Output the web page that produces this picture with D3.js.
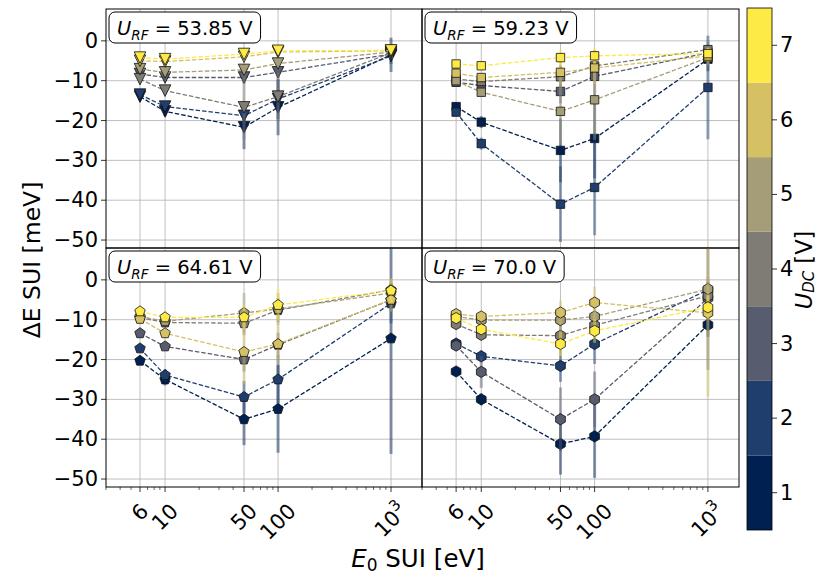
<!DOCTYPE html>
<html>
<head>
<meta charset="utf-8">
<script src="https://cdn.jsdelivr.net/npm/d3@7"></script>
<style>
  body { margin: 0; background: #fff; }
  text { font-family: "DejaVu Sans", sans-serif; }
</style>
</head>
<body>
<svg id="chart" width="820" height="578"></svg>
<script>
// E0 SUI values (x) and the U_DC levels (colour)
const xE0 = [6, 10, 50, 100, 1000];
const xTickLabels = ['6', '10', '50', '100', '10^3'];
const udcLevels = [1, 2, 3, 4, 5, 6, 7];
const yTicks = [0, -10, -20, -30, -40, -50];
const urfLabels = ['53.85', '59.23', '64.61', '70.0'];

// ΔE SUI [meV], one row per U_DC = 1..7
const dE_53 = [
  [-14.0, -17.7, -21.7, -16.7, -3.5],
  [-13.5, -16.5, -18.8, -14.6, -3.8],
  [-8.3, -9.2, -9.2, -7.9, -3.3],
  [-9.6, -12.5, -16.7, -14.0, -3.0],
  [-7.1, -7.9, -7.3, -5.7, -2.8],
  [-5.0, -5.2, -4.0, -2.8, -2.5],
  [-4.2, -4.6, -3.3, -2.5, -2.4]
];
const err_53 = [
  [1.0, 1.2, 5.5, 7.0, 4.3],
  [1.0, 1.0, 2.0, 5.0, 2.0],
  [0.8, 0.8, 1.5, 1.5, 1.5],
  [0.8, 1.0, 8.0, 6.0, 1.5],
  [0.8, 0.8, 1.5, 1.5, 1.5],
  [0.8, 0.8, 1.0, 1.0, 1.0],
  [0.8, 0.8, 1.0, 1.0, 1.0]
];
const dE_59 = [
  [-16.5, -20.4, -27.5, -24.5, -4.6],
  [-17.9, -25.8, -41.0, -36.8, -11.7],
  [-10.4, -11.2, -12.7, -8.9, -3.0],
  [-9.6, -10.2, -9.0, -6.3, -2.2],
  [-10.0, -12.9, -17.7, -14.8, -4.2],
  [-8.1, -9.2, -7.9, -6.8, -3.8],
  [-5.8, -6.25, -4.2, -3.75, -3.2]
];
const err_59 = [
  [1.0, 1.5, 8.0, 10.0, 3.0],
  [1.0, 1.5, 9.5, 12.0, 13.0],
  [1.0, 1.0, 3.0, 5.0, 2.0],
  [1.0, 1.0, 3.0, 4.0, 2.0],
  [1.0, 1.0, 8.0, 10.0, 2.0],
  [1.0, 1.0, 3.0, 4.0, 2.0],
  [1.0, 1.0, 2.0, 2.0, 1.5]
];
const dE_64 = [
  [-20.3, -25.0, -35.0, -32.4, -14.7],
  [-17.2, -23.9, -29.4, -25.0, -5.9],
  [-13.4, -16.7, -20.0, -16.3, -5.0],
  [-9.5, -10.7, -10.9, -7.6, -2.5],
  [-9.2, -10.4, -8.3, -7.3, -3.3],
  [-9.8, -13.4, -18.1, -16.1, -5.0],
  [-7.9, -9.4, -9.4, -6.3, -2.7]
];
const err_64 = [
  [1.0, 1.5, 6.5, 11.0, 29.0],
  [1.0, 1.5, 4.0, 6.0, 5.0],
  [1.0, 1.0, 3.0, 3.0, 3.0],
  [1.0, 1.0, 3.0, 3.0, 2.0],
  [1.0, 1.0, 5.0, 4.0, 2.0],
  [1.0, 1.0, 8.0, 5.0, 3.0],
  [1.0, 1.0, 3.0, 4.0, 3.0]
];
const dE_70 = [
  [-23.0, -30.0, -41.2, -39.3, -11.3],
  [-16.0, -19.2, -21.6, -16.1, -2.5],
  [-16.5, -23.1, -35.0, -30.0, -4.6],
  [-11.1, -13.8, -14.0, -11.4, -4.0],
  [-9.2, -10.1, -10.1, -9.2, -2.3],
  [-8.6, -9.2, -8.2, -5.7, -8.3],
  [-9.6, -12.4, -16.1, -12.8, -6.9]
];
const err_70 = [
  [1.0, 1.5, 7.7, 10.4, 3.0],
  [1.0, 1.5, 4.0, 5.0, 2.0],
  [1.0, 4.0, 8.0, 7.0, 18.0],
  [1.0, 1.0, 3.0, 3.0, 3.0],
  [1.0, 1.0, 3.0, 4.0, 3.0],
  [1.0, 1.0, 3.0, 4.0, 21.0],
  [1.0, 1.0, 3.0, 3.0, 3.0]
];

const svg = d3.select('#chart');
const color = (v) => d3.interpolateCividis((v - 1) / 6);

const colX = [[106, 422], [422, 739]];
const rowY = [[9, 248], [248, 487]];
const tickFont = 21;

const markers = {
  tri: (r) => `M0,${r}L${-r},${-r}L${r},${-r}Z`,
  square: (r) => `M${-r},${-r}H${r}V${r}H${-r}Z`,
  poly: (n) => (r) => {
    const pts = d3.range(n).map((k) => {
      const a = -Math.PI / 2 + (k * 2 * Math.PI) / n;
      return [r * Math.cos(a), r * Math.sin(a)];
    });
    return 'M' + pts.map((p) => p.join(',')).join('L') + 'Z';
  }
};

const panels = [
  { urf: urfLabels[0], vals: dE_53, errs: err_53, col: 0, row: 0, mark: markers.tri, r: 5.8 },
  { urf: urfLabels[1], vals: dE_59, errs: err_59, col: 1, row: 0, mark: markers.square, r: 4.2 },
  { urf: urfLabels[2], vals: dE_64, errs: err_64, col: 0, row: 1, mark: markers.poly(5), r: 5.5 },
  { urf: urfLabels[3], vals: dE_70, errs: err_70, col: 1, row: 1, mark: markers.poly(6), r: 5.6 }
];

panels.forEach((p, pi) => {
  const [x0, x1] = colX[p.col];
  const [y0, y1] = rowY[p.row];
  const x = d3.scaleLog().domain([3.0, 1880]).range([x0, x1]);
  const y = d3.scaleLinear().domain([-52, 8]).range([y1, y0]);

  const g = svg.append('g');
  const clipId = 'clip' + pi;
  g.append('clipPath').attr('id', clipId)
    .append('rect').attr('x', x0).attr('y', y0).attr('width', x1 - x0).attr('height', y1 - y0);

  // grid
  g.append('g').selectAll('line').data(xE0).join('line')
    .attr('x1', (d) => x(d)).attr('x2', (d) => x(d))
    .attr('y1', y0).attr('y2', y1)
    .attr('stroke', '#b0b0b0').attr('stroke-width', 0.8);
  g.append('g').selectAll('line').data(yTicks).join('line')
    .attr('x1', x0).attr('x2', x1)
    .attr('y1', (d) => y(d)).attr('y2', (d) => y(d))
    .attr('stroke', '#b0b0b0').attr('stroke-width', 0.8);

  const plot = g.append('g').attr('clip-path', `url(#${clipId})`);
  const line = d3.line().x((d) => x(d[0])).y((d) => y(d[1]));

  p.vals.forEach((row, si) => {
    const c = color(udcLevels[si]);
    const pts = row.map((v, i) => [xE0[i], v, p.errs[si][i]]);
    const s = plot.append('g');
    s.selectAll('line.err').data(pts).join('line')
      .attr('class', 'err')
      .attr('x1', (d) => x(d[0])).attr('x2', (d) => x(d[0]))
      .attr('y1', (d) => y(d[1] - d[2])).attr('y2', (d) => y(d[1] + d[2]))
      .attr('stroke', c).attr('stroke-opacity', 0.45).attr('stroke-width', 3);
    s.append('path').datum(pts)
      .attr('d', line)
      .attr('fill', 'none').attr('stroke', c)
      .attr('stroke-width', 1.3).attr('stroke-dasharray', '4.5,2');
    s.selectAll('path.mk').data(pts).join('path')
      .attr('class', 'mk')
      .attr('transform', (d) => `translate(${x(d[0])},${y(d[1])})`)
      .attr('d', p.mark(p.r))
      .attr('fill', c).attr('stroke', '#111').attr('stroke-width', 0.8);
  });

  // frame
  g.append('rect').attr('x', x0).attr('y', y0).attr('width', x1 - x0).attr('height', y1 - y0)
    .attr('fill', 'none').attr('stroke', '#000').attr('stroke-width', 1);

  // title box
  const tb = g.append('g').attr('transform', `translate(${x0 + 3},${y0 + 3})`);
  const tRect = tb.append('rect').attr('rx', 6).attr('ry', 6)
    .attr('fill', '#fff').attr('stroke', '#000').attr('stroke-width', 1);
  const tt = tb.append('text').attr('x', 8).attr('y', 23).attr('font-size', 19.5);
  tt.append('tspan').attr('font-style', 'italic').text('U');
  tt.append('tspan').attr('font-style', 'italic').attr('font-size', 13.5).attr('dy', 5).text('RF');
  tt.append('tspan').attr('dy', -5).text(` = ${p.urf} V`);
  const tw = tt.node().getComputedTextLength();
  tRect.attr('width', tw + 16).attr('height', 31);

  // y axis ticks (left column)
  if (p.col === 0) {
    const ya = g.append('g');
    ya.selectAll('line').data(yTicks).join('line')
      .attr('x1', x0 - 5).attr('x2', x0)
      .attr('y1', (d) => y(d)).attr('y2', (d) => y(d))
      .attr('stroke', '#000').attr('stroke-width', 0.8);
    ya.selectAll('text').data(yTicks).join('text')
      .attr('x', x0 - 8).attr('y', (d) => y(d))
      .attr('text-anchor', 'end').attr('dominant-baseline', 'central')
      .attr('font-size', tickFont)
      .text((d) => (d < 0 ? '\u2212' + Math.abs(d) : d));
  }

  // x axis ticks (bottom row)
  if (p.row === 1) {
    const xa = g.append('g');
    const minor = [];
    [1, 10, 100, 1000].forEach((dec) => {
      d3.range(1, 10).forEach((m) => {
        const v = dec * m;
        if (v >= 3 && v <= 1880 && !xE0.includes(v)) minor.push(v);
      });
    });
    xa.selectAll('line.minor').data(minor).join('line')
      .attr('class', 'minor')
      .attr('x1', (d) => x(d)).attr('x2', (d) => x(d))
      .attr('y1', y1).attr('y2', y1 + 3)
      .attr('stroke', '#000').attr('stroke-width', 0.6);
    xa.selectAll('line.major').data(xE0).join('line')
      .attr('class', 'major')
      .attr('x1', (d) => x(d)).attr('x2', (d) => x(d))
      .attr('y1', y1).attr('y2', y1 + 5)
      .attr('stroke', '#000').attr('stroke-width', 0.8);
    xE0.forEach((v, i) => {
      const lab = xTickLabels[i];
      const tg = xa.append('g');
      const t = tg.append('text').attr('font-size', tickFont)
        .attr('text-anchor', 'middle').attr('dominant-baseline', 'central')
        .attr('transform', 'rotate(-45)');
      if (lab.includes('^')) {
        const [b, e] = lab.split('^');
        t.append('tspan').text(b);
        t.append('tspan').attr('font-size', 15).attr('dy', -8).text(e);
      } else {
        t.text(lab);
      }
      const w = t.node().getComputedTextLength();
      const h = 16;
      const half = (w + h) / (2 * Math.SQRT2);
      tg.attr('transform', `translate(${x(v)},${y1 + 15 + half})`);
    });
  }
});

// axis labels
svg.append('text')
  .attr('transform', 'translate(40,260) rotate(-90)')
  .attr('text-anchor', 'middle').attr('font-size', 23.5)
  .text('\u0394E SUI [meV]');

const xl = svg.append('text').attr('x', 418).attr('y', 567)
  .attr('text-anchor', 'middle').attr('font-size', 24.5);
xl.append('tspan').attr('font-style', 'italic').text('E');
xl.append('tspan').attr('font-size', 17).attr('dy', 4).text('0');
xl.append('tspan').attr('dy', -4).text(' SUI [eV]');

// colour bar
const cbX = 747, cbW = 25, cbTop = 8, cbBot = 530;
const cy = d3.scaleLinear().domain([0.5, 7.5]).range([cbBot, cbTop]);
const cb = svg.append('g');
cb.selectAll('rect.lvl').data(udcLevels).join('rect')
  .attr('class', 'lvl')
  .attr('x', cbX).attr('width', cbW)
  .attr('y', (d) => cy(d + 0.5)).attr('height', (d) => cy(d - 0.5) - cy(d + 0.5))
  .attr('fill', (d) => color(d));
cb.append('rect').attr('x', cbX).attr('y', cbTop).attr('width', cbW).attr('height', cbBot - cbTop)
  .attr('fill', 'none').attr('stroke', '#000').attr('stroke-width', 0.8);
cb.selectAll('line.tk').data(udcLevels).join('line')
  .attr('class', 'tk')
  .attr('x1', cbX + cbW).attr('x2', cbX + cbW + 5)
  .attr('y1', (d) => cy(d)).attr('y2', (d) => cy(d))
  .attr('stroke', '#000').attr('stroke-width', 0.8);
cb.selectAll('text').data(udcLevels).join('text')
  .attr('x', cbX + cbW + 8).attr('y', (d) => cy(d))
  .attr('dominant-baseline', 'central').attr('font-size', tickFont)
  .text((d) => d);

const cl = svg.append('text')
  .attr('transform', 'translate(812,270) rotate(-90)')
  .attr('text-anchor', 'middle').attr('font-size', 22.5);
cl.append('tspan').attr('font-style', 'italic').text('U');
cl.append('tspan').attr('font-style', 'italic').attr('font-size', 15).attr('dy', 2).text('DC');
cl.append('tspan').attr('dy', -2).text(' [V]');
</script>
</body>
</html>
